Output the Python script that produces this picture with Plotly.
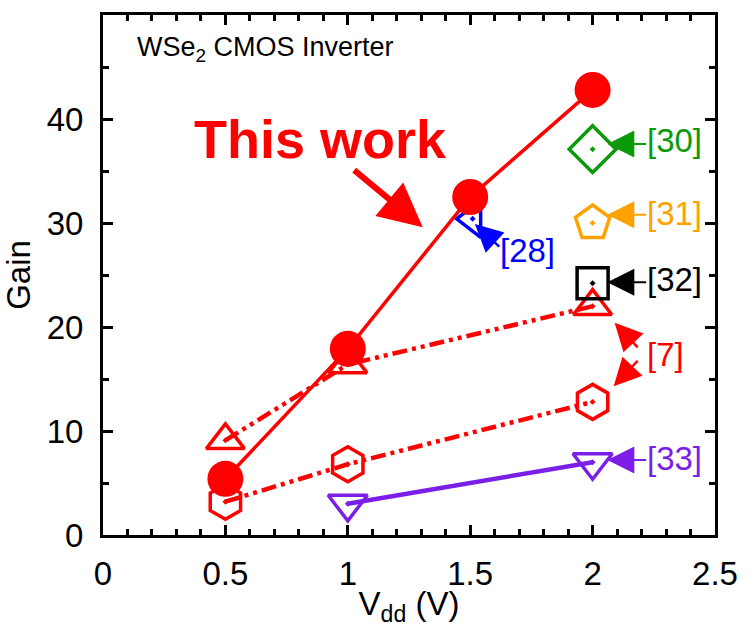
import plotly.graph_objects as go

# ---------------- data ----------------
vdd_this = [0.5, 1.0, 1.5, 2.0]
gain_this = [5.4, 17.9, 32.5, 42.8]

vdd_ref7_tri = [0.5, 1.0, 2.0]
gain_ref7_tri = [9.1, 16.4, 22.0]

vdd_ref7_hex = [0.5, 1.0, 2.0]
gain_ref7_hex = [3.2, 6.8, 12.8]

vdd_ref33 = [1.0, 2.0]
gain_ref33 = [3.0, 7.0]

vdd_ref28 = [1.51]
gain_ref28 = [30.4]

vdd_ref30 = [2.0]
gain_ref30 = [37.1]

vdd_ref31 = [2.0]
gain_ref31 = [30.0]

vdd_ref32 = [2.0]
gain_ref32 = [24.2]

x_ticks = [0, 0.5, 1, 1.5, 2, 2.5]
x_tick_text = ["0", "0.5", "1", "1.5", "2", "2.5"]
y_ticks = [0, 10, 20, 30, 40, 50]

# reference labels: (text, text_x, text_y, arrow tail x, tail y, tip x, tip y, colour)
ref_labels = [
    ("[30]", 2.215, 37.9, 2.225, 37.6, 2.06, 37.6, "#0a9a0a"),
    ("[31]", 2.215, 30.9, 2.225, 30.8, 2.06, 30.8, "#ffa200"),
    ("[32]", 2.215, 24.6, 2.225, 24.3, 2.06, 24.3, "#000000"),
    ("[33]", 2.215, 7.4, 2.225, 7.2, 2.06, 7.2, "#7b1fe8"),
]

RED = "#ff0000"
PURPLE = "#7b1fe8"
FONT = "Liberation Sans, Arial, sans-serif"
DASH7 = "15px,5px,4px,5px,4px,5px"

fig = go.Figure()


def open_series(xs, ys, symbol, size, color, line=None):
    kw = dict(mode="lines+markers", line=line) if line else dict(mode="markers")
    fig.add_trace(go.Scatter(
        x=xs, y=ys,
        marker=dict(symbol=symbol, size=size, color=color,
                    line=dict(color=color, width=3.5)),
        **kw,
    ))


open_series(vdd_ref7_tri, gain_ref7_tri, "triangle-up-open-dot", 33, RED,
            dict(color=RED, width=4.5, dash=DASH7))
open_series(vdd_ref7_hex, gain_ref7_hex, "hexagon-open-dot", 35, RED,
            dict(color=RED, width=4.5, dash=DASH7))
open_series(vdd_ref33, gain_ref33, "triangle-down-open-dot", 34, PURPLE,
            dict(color=PURPLE, width=4.5))
open_series(vdd_ref28, gain_ref28, "triangle-left-open-dot", 32, "#0000ff")
open_series(vdd_ref30, gain_ref30, "diamond-open-dot", 36, "#0a9a0a")
open_series(vdd_ref31, gain_ref31, "pentagon-open-dot", 36, "#ffa200")
open_series(vdd_ref32, gain_ref32, "square-open-dot", 31, "#000000")

# This work
fig.add_trace(go.Scatter(
    x=vdd_this, y=gain_this, mode="lines+markers",
    line=dict(color=RED, width=3.5),
    marker=dict(symbol="circle", size=36, color=RED),
))

annotations = []
for txt, tx, ty, ax_, ay_, hx, hy, col in ref_labels:
    annotations.append(dict(x=hx, y=hy, ax=ax_, ay=ay_, xref="x", yref="y",
                            axref="x", ayref="y", text="", showarrow=True,
                            arrowhead=2, arrowsize=2.7, arrowwidth=2,
                            arrowcolor=col, standoff=0))
    annotations.append(dict(x=tx, y=ty, xref="x", yref="y", text=txt,
                            showarrow=False, xanchor="left", yanchor="middle",
                            font=dict(family=FONT, size=33, color=col)))

annotations.append(dict(x=2.215, y=17.4, xref="x", yref="y", text="[7]",
                        showarrow=False, xanchor="left", yanchor="middle",
                        font=dict(family=FONT, size=33, color=RED)))
annotations.append(dict(x=2.09, y=20.4, ax=2.19, ay=17.9, xref="x", yref="y",
                        axref="x", ayref="y", text="", showarrow=True,
                        arrowhead=2, arrowsize=2.2, arrowwidth=2.5,
                        arrowcolor=RED, standoff=0))
annotations.append(dict(x=2.086, y=14.3, ax=2.19, ay=16.9, xref="x", yref="y",
                        axref="x", ayref="y", text="", showarrow=True,
                        arrowhead=2, arrowsize=2.2, arrowwidth=2.5,
                        arrowcolor=RED, standoff=0))
annotations.append(dict(x=1.615, y=27.4, xref="x", yref="y", text="[28]",
                        showarrow=False, xanchor="left", yanchor="middle",
                        font=dict(family=FONT, size=33, color="#0000ff")))
annotations.append(dict(x=1.519, y=29.9, ax=1.625, ay=27.6, xref="x", yref="y",
                        axref="x", ayref="y", text="", showarrow=True,
                        arrowhead=2, arrowsize=2.2, arrowwidth=2.5,
                        arrowcolor="#0000ff", standoff=0))
annotations.append(dict(x=0.89, y=38.1, xref="x", yref="y", text="<b>This work</b>",
                        showarrow=False, xanchor="center", yanchor="middle",
                        font=dict(family=FONT, size=54, color=RED)))
annotations.append(dict(x=1.306, y=29.6, ax=1.02, ay=35.2, xref="x", yref="y",
                        axref="x", ayref="y", text="", showarrow=True,
                        arrowhead=2, arrowsize=1.45, arrowwidth=6,
                        arrowcolor=RED, standoff=0))
annotations.append(dict(x=0.13, y=46.7, xref="x", yref="y",
                        text="WSe<sub>2</sub> CMOS Inverter",
                        showarrow=False, xanchor="left", yanchor="middle",
                        font=dict(family=FONT, size=27, color="#000000")))

axis_common = dict(
    showline=True, linewidth=3, linecolor="#000000", mirror="allticks",
    ticks="inside", ticklen=10, tickwidth=3, tickcolor="#000000",
    showgrid=False, zeroline=False,
    tickfont=dict(family=FONT, size=33, color="#000000"),
)

fig.update_layout(
    width=750, height=627,
    margin=dict(l=103, r=23, t=13, b=90),
    paper_bgcolor="white", plot_bgcolor="white",
    showlegend=False,
    annotations=annotations,
    xaxis=dict(range=[0, 2.5], tickvals=x_ticks, ticktext=x_tick_text,
               minor=dict(dtick=0.1, ticklen=6, tickwidth=2.5, tickcolor="#000000",
                          ticks="inside", showgrid=False),
               ticklabelstandoff=7,
               title=dict(text="V<sub>dd</sub> (V)", standoff=0,
                          font=dict(family=FONT, size=33, color="#000000")),
               **axis_common),
    yaxis=dict(range=[0, 50], tickvals=y_ticks,
               minor=dict(dtick=5, ticklen=6, tickwidth=2.5, tickcolor="#000000",
                          ticks="inside", showgrid=False),
               ticklabelstandoff=10,
               title=dict(text="Gain", standoff=12,
                          font=dict(family=FONT, size=33, color="#000000")),
               **axis_common),
)

fig.write_html("out.html")
